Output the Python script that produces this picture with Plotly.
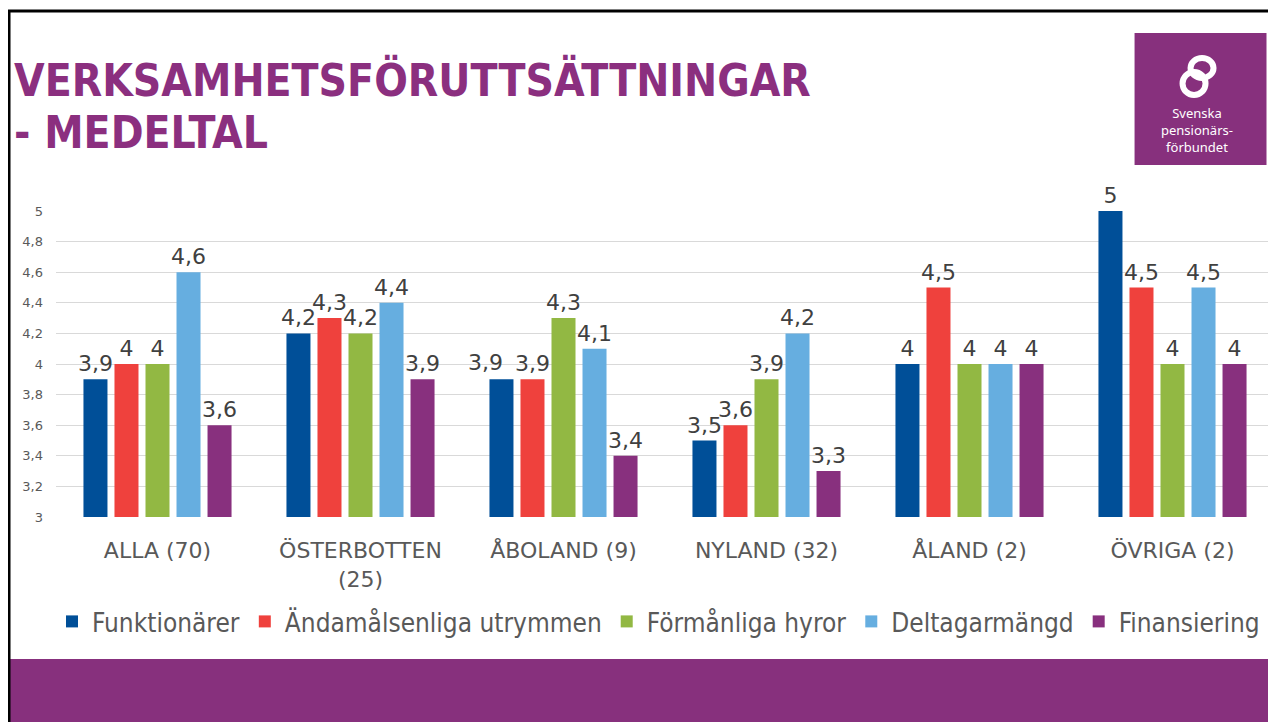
import plotly.graph_objects as go

categories = ["ALLA (70)", "ÖSTERBOTTEN (25)", "ÅBOLAND (9)", "NYLAND (32)", "ÅLAND (2)", "ÖVRIGA (2)"]
category_ticktext = ["ALLA (70)", "ÖSTERBOTTEN<br>(25)", "ÅBOLAND (9)", "NYLAND (32)", "ÅLAND (2)", "ÖVRIGA (2)"]

series_names = ["Funktionärer", "Ändamålsenliga utrymmen", "Förmånliga hyror", "Deltagarmängd", "Finansiering"]
funktionarer = [3.9, 4.2, 3.9, 3.5, 4.0, 5.0]
utrymmen = [4.0, 4.3, 3.9, 3.6, 4.5, 4.5]
hyror = [4.0, 4.2, 4.3, 3.9, 4.0, 4.0]
deltagare = [4.6, 4.4, 4.1, 4.2, 4.0, 4.5]
finansiering = [3.6, 3.9, 3.4, 3.3, 4.0, 4.0]
series_values = [funktionarer, utrymmen, hyror, deltagare, finansiering]
series_colors = ["#004F98", "#EF413D", "#92B843", "#66AEE0", "#88307E"]

y_tickvals = [3, 3.2, 3.4, 3.6, 3.8, 4, 4.2, 4.4, 4.6, 4.8, 5]
y_ticktext = ["3", "3,2", "3,4", "3,6", "3,8", "4", "4,2", "4,4", "4,6", "4,8", "5"]

title_line1 = "VERKSAMHETSFÖRUTTSÄTTNINGAR"
title_line2 = "- MEDELTAL"
logo_lines = "Svenska<br>pensionärs-<br>förbundet"

# labels nudged sideways (as in the reference) to avoid collisions: (series index, category index) -> x shift px
label_nudge = {(0, 2): -78}

# page body has an 8px margin; work in screen coordinates and subtract it
OFF = 8
W, H = 1268, 714
ML = 56 - OFF
MT = 211 - OFF
MB = H - (517 - OFF)
MR = W - (1274.5 - OFF)
PW = W - ML - MR
PH = H - MT - MB


def px(x):
    return (x - OFF - ML) / PW


def py(y):
    return (H - MB - (y - OFF)) / PH


def fmt(v):
    return ("%g" % v).replace(".", ",")


label_font = dict(family="DejaVu Sans, sans-serif", size=22, color="#404040")
annotations = []

fig = go.Figure()
for si, (name, vals, col) in enumerate(zip(series_names, series_values, series_colors)):
    labels = []
    for ci, v in enumerate(vals):
        if (si, ci) in label_nudge:
            labels.append("")
            annotations.append(dict(text=fmt(v), x=categories[ci], y=v, xref="x", yref="y",
                                    xanchor="center", yanchor="bottom", xshift=label_nudge[(si, ci)],
                                    yshift=2, showarrow=False, font=label_font))
        else:
            labels.append(fmt(v))
    fig.add_trace(go.Bar(
        name=name,
        x=categories,
        y=vals,
        marker=dict(color=col, line=dict(width=0)),
        text=labels,
        textposition="outside",
        constraintext="none",
        textfont=label_font,
        cliponaxis=False,
    ))

shapes = [
    # slide border
    dict(type="line", xref="paper", yref="paper", x0=px(8), x1=px(1290), y0=py(11), y1=py(11),
         line=dict(color="black", width=3)),
    dict(type="line", xref="paper", yref="paper", x0=px(9), x1=px(9), y0=py(10), y1=py(740),
         line=dict(color="black", width=3)),
    # bottom band
    dict(type="rect", xref="paper", yref="paper", x0=px(10), x1=px(1290), y0=py(659), y1=py(740),
         fillcolor="#87307D", line=dict(width=0), layer="below"),
    # logo box
    dict(type="rect", xref="paper", yref="paper", x0=px(1135), x1=px(1267), y0=py(33), y1=py(165),
         fillcolor="#87307D", line=dict(width=0)),
    # logo icon (two interlocking rings, approx)
    dict(type="circle", xref="paper", yref="paper", x0=px(1191), x1=px(1214), y0=py(58), y1=py(78),
         line=dict(color="white", width=6)),
    dict(type="circle", xref="paper", yref="paper", x0=px(1183), x1=px(1206), y0=py(72), y1=py(95),
         line=dict(color="white", width=6)),
]

title_font = dict(family="DejaVu Sans Condensed, sans-serif", size=44, color="#8B2F7F", weight="bold")
annotations += [
    dict(text=title_line1, xref="paper", yref="paper", x=px(12), y=py(80), xanchor="left", yanchor="middle",
         align="left", showarrow=False, font=title_font),
    dict(text=title_line2, xref="paper", yref="paper", x=px(12), y=py(132), xanchor="left", yanchor="middle",
         align="left", showarrow=False, font=title_font),
    dict(text=logo_lines, xref="paper", yref="paper", x=px(1197), y=py(102), xanchor="center", yanchor="top",
         align="center", showarrow=False,
         font=dict(family="Noto Sans, sans-serif", size=13, color="white")),
]

fig.update_layout(
    width=W, height=H,
    margin=dict(l=ML, r=MR, t=MT, b=MB, pad=0),
    paper_bgcolor="white", plot_bgcolor="white",
    barmode="group", bargap=0.236, bargroupgap=0.226,
    showlegend=True,
    legend=dict(orientation="h", x=px(52), y=py(598), xanchor="left", yanchor="top",
                font=dict(family="DejaVu Sans Condensed, sans-serif", size=26, color="#595959"),
                itemwidth=30, traceorder="normal", bgcolor="rgba(0,0,0,0)"),
    shapes=shapes,
    annotations=annotations,
    xaxis=dict(tickmode="array", tickvals=categories, ticktext=category_ticktext,
               tickfont=dict(family="DejaVu Sans, sans-serif", size=22, color="#595959"),
               showgrid=False, showline=False, ticks="", ticklabelstandoff=18),
    yaxis=dict(range=[3, 5], tickmode="array", tickvals=y_tickvals, ticktext=y_ticktext,
               tickfont=dict(family="DejaVu Sans, sans-serif", size=13, color="#595959"),
               showgrid=True, gridcolor="#D9D9D9", gridwidth=1, zeroline=False, showline=False,
               ticks="", ticklabelstandoff=12),
)

fig.write_html("out.html")
